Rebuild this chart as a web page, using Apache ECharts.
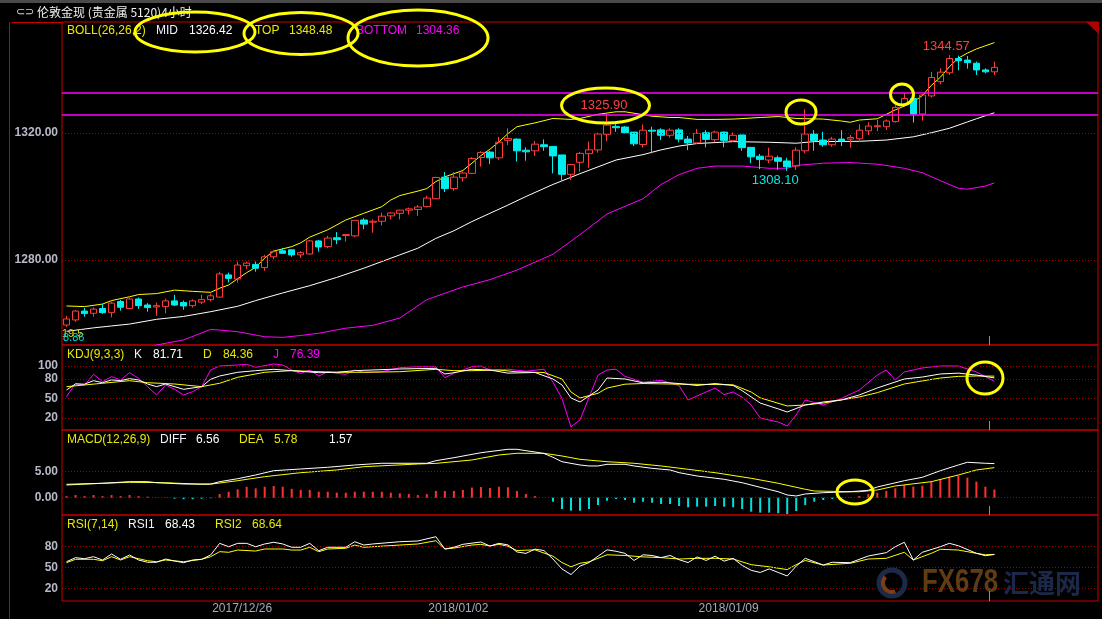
<!DOCTYPE html>
<html><head><meta charset="utf-8">
<script src="https://cdn.jsdelivr.net/npm/echarts@6.0.0/dist/echarts.min.js"></script>
<style>html,body{margin:0;padding:0;background:#000;}#c{width:1102px;height:619px;}</style>
</head><body><div id="c"></div><script>
// ---------- DATA ----------
// candles: [open, close, low, high]
const candles = [
[1259.5,1261.4,1258.9,1262.4],[1261.1,1263.9,1260.5,1264.2],[1263.9,1263.1,1262.1,1264.9],[1263.2,1264.5,1262.1,1265.1],
[1264.7,1263.4,1263.0,1266.1],[1263.4,1266.4,1261.9,1266.9],[1266.9,1265.1,1264.0,1267.4],[1264.7,1267.7,1264.6,1268.2],
[1267.7,1265.6,1264.6,1268.2],[1265.8,1265.0,1263.7,1266.4],[1265.2,1265.6,1262.4,1266.6],[1265.3,1267.1,1263.2,1267.8],
[1267.1,1265.8,1265.5,1269.0],[1266.6,1265.5,1264.3,1267.2],[1265.6,1267.1,1265.0,1267.6],[1266.7,1267.5,1266.1,1269.0],
[1267.5,1268.7,1266.9,1269.4],[1268.3,1275.6,1268.1,1276.3],[1275.3,1274.2,1272.9,1276.0],[1274.0,1278.4,1272.9,1279.5],
[1278.2,1279.0,1277.1,1279.5],[1278.6,1277.4,1276.3,1279.5],[1277.6,1281.0,1276.6,1281.6],[1281.0,1282.6,1280.2,1283.2],
[1282.9,1282.1,1282.1,1283.7],[1283.2,1281.6,1281.0,1283.2],[1281.6,1282.3,1280.7,1282.8],[1281.9,1286.0,1281.7,1286.3],
[1286.0,1284.1,1282.6,1286.3],[1284.2,1286.9,1283.7,1287.6],[1287.0,1286.4,1285.0,1288.8],[1287.7,1288.0,1285.8,1288.2],
[1287.6,1292.5,1287.2,1292.5],[1292.6,1291.3,1289.7,1293.2],[1291.9,1292.2,1288.6,1292.8],[1292.2,1293.8,1290.9,1294.9],
[1293.9,1294.8,1292.8,1295.1],[1294.7,1295.7,1292.8,1295.8],[1295.7,1296.1,1294.3,1296.5],[1295.9,1296.7,1293.9,1297.3],
[1296.8,1299.5,1296.6,1300.2],[1299.3,1306.0,1299.1,1306.2],[1306.1,1302.5,1301.4,1307.7],[1302.5,1306.1,1301.8,1307.7],
[1305.9,1307.4,1304.7,1307.8],[1307.3,1312.0,1307.1,1312.4],[1312.3,1313.9,1309.4,1314.3],[1314.0,1312.2,1310.2,1314.4],
[1312.2,1317.1,1311.5,1318.8],[1317.7,1318.3,1316.2,1321.5],[1318.1,1314.4,1311.0,1318.3],[1314.6,1314.1,1311.3,1315.5],
[1314.4,1316.5,1312.8,1317.5],[1316.3,1315.7,1314.4,1318.0],[1315.8,1312.8,1307.3,1315.8],[1313.1,1307.0,1305.0,1313.1],
[1307.0,1310.1,1305.2,1310.1],[1310.8,1313.6,1307.8,1314.1],[1313.5,1314.7,1309.1,1317.3],[1314.7,1319.7,1313.8,1320.1],
[1319.6,1322.5,1317.5,1325.9],[1322.1,1321.7,1320.4,1322.8],[1321.9,1320.1,1319.9,1322.2],[1320.3,1316.6,1315.9,1320.3],
[1316.4,1320.9,1315.4,1322.7],[1320.9,1320.6,1313.6,1322.0],[1321.0,1319.3,1317.8,1321.5],[1319.3,1320.9,1318.5,1321.5],
[1321.0,1318.1,1317.1,1321.5],[1318.1,1316.9,1314.6,1319.1],[1316.9,1319.9,1316.5,1321.3],[1320.1,1318.0,1315.5,1320.9],
[1317.9,1320.3,1317.1,1320.7],[1320.3,1317.7,1315.5,1320.5],[1317.6,1319.3,1317.3,1320.2],[1319.4,1315.4,1314.4,1319.4],
[1315.5,1312.5,1310.5,1315.5],[1312.7,1311.7,1308.6,1313.4],[1311.5,1312.7,1310.5,1315.4],[1312.2,1311.1,1308.4,1312.9],
[1311.2,1309.4,1308.1,1312.2],[1309.6,1314.6,1308.4,1315.5],[1314.4,1319.7,1313.6,1327.5],[1319.7,1317.6,1314.4,1320.9],
[1317.8,1316.3,1315.7,1320.4],[1316.3,1318.1,1315.7,1318.8],[1318.1,1317.5,1315.9,1320.9],[1318.1,1318.6,1315.4,1319.4],
[1318.2,1320.9,1317.2,1322.8],[1320.7,1322.2,1319.4,1323.4],[1322.0,1322.3,1320.6,1324.1],[1322.0,1323.8,1320.9,1324.3],
[1323.6,1328.1,1323.3,1328.8],[1328.8,1330.9,1328.3,1332.7],[1330.9,1326.0,1323.3,1330.9],[1326.0,1332.0,1323.9,1332.3],
[1331.7,1337.5,1331.2,1339.3],[1336.2,1339.2,1335.4,1340.4],[1339.0,1343.5,1338.3,1344.57],[1343.5,1342.8,1339.8,1344.4],
[1343.0,1342.2,1340.3,1344.3],[1342.0,1339.9,1338.3,1342.5],[1339.9,1339.3,1338.8,1340.4],[1339.3,1340.7,1338.3,1342.5]
];
// Bollinger lines: [barIndex, value]
const bollTop = [[0,1265.5],[2,1265.3],[4,1266.1],[5,1267.2],[7,1268.4],[8,1269.1],[10,1269.4],[12,1270.5],[14,1270.1],[16,1269.8],[17,1271.1],[18,1272.1],[19,1274.1],[20,1276.0],[21,1277.7],[22,1280.6],[23,1282.8],[25,1284.2],[26,1285.4],[27,1287.2],[29,1289.5],[31,1292.6],[33,1294.7],[35,1296.8],[36,1298.9],[37,1300.3],[38,1301.0],[39,1301.7],[40,1302.5],[41,1304.7],[42,1306.2],[44,1308.2],[45,1310.5],[46,1312.9],[47,1314.9],[48,1317.2],[49,1319.8],[50,1322.0],[52,1323.2],[54,1324.6],[56,1324.3],[57,1324.6],[59,1325.9],[61,1326.7],[62,1326.7],[64,1325.8],[65,1325.3],[67,1324.9],[68,1324.9],[70,1324.3],[72,1324.3],[74,1324.4],[77,1324.9],[79,1325.2],[81,1324.6],[84,1324.4],[86,1323.8],[87,1323.4],[88,1324.1],[90,1324.5],[91,1325.9],[92,1327.3],[93,1328.5],[94,1329.8],[95,1331.8],[96,1335.0],[97,1337.6],[98,1340.9],[99,1343.6],[100,1345.2],[101,1346.5],[102,1347.5],[103,1348.5]];
const bollMid = [[0,1257.5],[3,1258.6],[5,1259.2],[7,1259.8],[10,1261.3],[13,1262.2],[16,1263.7],[19,1265.4],[21,1267.2],[24,1269.6],[27,1271.9],[30,1274.5],[33,1277.4],[35,1279.5],[37,1281.6],[39,1283.7],[41,1286.8],[43,1289.2],[45,1292.1],[47,1294.7],[49,1297.3],[51,1300.0],[54,1303.8],[57,1307.2],[61,1311.5],[64,1313.2],[66,1314.7],[68,1315.9],[70,1316.7],[74,1317.3],[78,1317.1],[81,1316.8],[83,1317.3],[88,1317.4],[91,1317.8],[94,1318.8],[96,1320.1],[98,1321.5],[100,1323.5],[101,1324.5],[103,1326.4]];
const bollBot = [[0,1246.5],[6,1249.5],[10,1253.2],[13,1254.8],[16,1258.1],[17,1257.9],[19,1257.4],[22,1255.8],[24,1255.6],[26,1256.2],[28,1256.9],[31,1258.5],[34,1259.4],[37,1261.7],[40,1267.5],[44,1271.5],[47,1273.8],[50,1276.8],[54,1281.8],[57,1288.0],[60,1294.5],[64,1299.3],[66,1303.8],[68,1306.9],[70,1308.9],[72,1309.6],[75,1309.6],[78,1308.9],[80,1308.9],[81,1309.8],[84,1310.5],[87,1310.7],[90,1310.2],[93,1308.9],[95,1307.5],[97,1305.0],[99,1302.6],[100,1302.3],[102,1303.3],[103,1304.3]];
const levelLines = [1332.8, 1325.9];
// KDJ
const kdjK = [[0,63.1],[1,72.3],[2,72],[3,77.4],[4,74.3],[5,78.5],[6,77.5],[7,80.5],[8,78.5],[9,72.3],[10,68.2],[11,72.3],[13,64.1],[15,68.2],[16,79.5],[17,84.6],[19,90.3],[21,92.8],[23,94.9],[25,92.8],[28,89.7],[30,90.3],[32,92.8],[37,95.4],[41,96.4],[42,87.7],[43,89.7],[45,94.9],[47,93.8],[49,89],[52,90],[54,80],[55,70.8],[56,50.8],[57,44.6],[59,63],[60,81.5],[62,80],[64,74],[66,75],[68,73],[70,70],[72,73],[74,70],[75,62],[77,43],[79,34],[80,29.2],[82,40],[84,44.6],[86,47.7],[88,55.4],[90,66.2],[93,80],[95,83],[97,87.7],[99,89],[101,86],[103,81.71]];
const kdjD = [[0,68.2],[4,73.4],[7,77.4],[9,74.3],[12,72.3],[15,68.2],[17,73.4],[19,82.6],[22,90.3],[25,92.8],[30,90.3],[33,90.3],[37,91.2],[41,94.9],[43,92.8],[45,92.8],[48,93.8],[50,91],[53,90],[55,80],[56,60],[57,50.8],[59,58],[60,66],[62,72],[64,73],[68,72],[72,71.5],[74,71],[76,60],[77,51],[80,38.5],[82,40],[84,43],[86,47.7],[88,52.3],[90,59],[93,72.3],[95,77],[97,81.5],[99,84],[101,84.6],[103,84.36]];
const kdjJ = [[0,52.8],[1,73.4],[2,70.8],[3,87.2],[4,75.8],[5,83.6],[6,78.5],[7,89.7],[8,81.0],[9,68.2],[10,55.4],[11,70.8],[12,64.1],[13,55.4],[14,60.5],[15,68.2],[16,93.8],[17,100],[19,101.5],[20,102.6],[21,98.0],[23,103.1],[24,101.5],[25,93.8],[26,88.7],[27,93.8],[28,84.6],[29,91.2],[30,88.7],[31,87.2],[32,93.8],[33,90.3],[35,91.2],[37,97.4],[39,98.9],[41,98.9],[42,82.0],[43,88.7],[45,98.9],[46,100],[47,93.8],[48,93.8],[49,95],[51,92],[53,95],[54,75],[55,50],[56,6.2],[57,17],[59,86],[60,93.8],[61,95],[62,84],[64,75],[66,78],[68,70],[69,47.7],[71,60],[72,66],[73,56],[74,60],[75,52],[76,40],[77,20],[79,13.8],[80,7.7],[81,24.6],[82,47.7],[84,40],[86,50],[88,63],[90,86],[91,93.8],[92,78.5],[93,90.8],[95,97],[97,100],[99,100],[101,90.8],[103,76.39]];
// MACD
const macdDiff = [[0,2.57],[4,2.77],[7,3.08],[9,3.08],[10,2.88],[13,2.63],[16,2.63],[17,3.08],[19,3.65],[21,4.37],[23,5.19],[26,5.52],[29,5.85],[32,6.29],[35,6.62],[40,6.62],[41,7.12],[43,7.69],[46,8.65],[49,9.31],[50,9.31],[51,9.04],[52,8.79],[53,8.5],[54,7.77],[55,6.92],[57,6.29],[58,6.10],[59,6.10],[60,6.42],[62,6.42],[63,6.10],[65,5.65],[67,5.33],[68,4.81],[70,4.17],[73,3.54],[75,2.88],[77,2.00],[79,1.15],[80,0.52],[81,0.33],[82,0.71],[84,0.96],[87,1.15],[89,1.42],[90,2.06],[93,3.27],[95,3.92],[97,5.19],[99,6.29],[100,6.81],[102,6.62],[103,6.56]];
const macdDea = [[0,2.44],[4,2.77],[7,2.96],[11,2.88],[15,2.57],[16,2.6],[19,3.27],[22,4.04],[26,4.81],[30,5.33],[33,5.96],[39,6.48],[41,6.6],[45,7.25],[46,7.58],[48,8.21],[50,8.54],[53,8.54],[55,8.02],[57,7.38],[60,6.92],[63,6.62],[66,6.10],[69,5.46],[72,4.81],[76,3.73],[79,2.77],[82,1.62],[83,1.29],[87,1.15],[88,1.15],[90,1.48],[92,2.25],[96,3.08],[99,4.37],[101,5.33],[103,5.78]];
const macdHist = [0.3,0.5,0.3,0.5,0.3,0.5,0.3,0.5,0.3,0.2,0.05,0.05,-0.2,-0.3,-0.3,-0.2,-0.1,
0.7,1.15,1.6,2.1,1.8,2.1,2.25,2.1,1.7,1.5,1.5,1.15,1.15,0.96,0.96,1.15,1.15,1.15,1.15,0.96,0.83,0.7,0.5,0.7,1.3,1.3,1.3,1.5,1.95,2.05,1.85,2.1,
2.0,1.28,0.7,0.3,0.02,-0.77,-2.18,-2.5,-2.5,-2.18,-1.41,-0.58,-0.26,-0.45,-0.96,-0.77,-0.96,-1.22,-1.22,-1.6,-1.86,-1.73,-1.73,-1.6,-1.73,-1.86,-2.18,-2.69,-2.88,-2.88,-3.0,-3.14,-2.56,-1.41,-0.77,-0.45,-0.26,-0.05,0.05,0.32,0.7,0.96,
1.28,1.8,2.44,2.12,2.3,3.08,3.53,4.04,4.23,3.85,3.08,2.12,1.57];
// RSI
const rsi1 = [[0,58.2],[1,63.9],[2,62.5],[3,65.3],[4,60.6],[5,69.1],[6,61.6],[7,67.7],[8,60.6],[9,57.4],[10,57.4],[11,62.0],[12,59.2],[13,56.8],[14,60.6],[15,61.6],[16,67.7],[17,84.2],[18,79.4],[19,84.2],[20,84.2],[21,79.4],[22,83.3],[23,85.7],[24,83.3],[25,78.6],[26,78.6],[27,84.2],[28,73.8],[29,78.6],[31,78.6],[32,86.5],[33,81.8],[34,83.3],[37,86.5],[39,87.5],[41,93.6],[42,76.2],[43,78.6],[44,82.8],[46,86.1],[47,80.4],[48,84.2],[49,82],[50,72],[51,70],[52,76],[53,74],[54,62],[55,48],[56,40],[57,52],[58,57],[59,66],[60,75],[61,73],[62,70],[63,60],[64,68],[65,67],[66,64],[67,67],[68,61],[69,57],[70,65],[71,60],[72,66],[73,59],[74,63],[75,53],[76,46],[77,43],[78,48],[79,43],[80,38],[81,52],[82,63],[84,53.5],[85,57.4],[87,56.8],[89,66.3],[91,71.0],[92,79.4],[93,85.7],[94,60.6],[95,71.5],[97,79.4],[98,84.2],[99,80.8],[101,70.1],[102,66.7],[103,68.43]];
const rsi2 = [[0,56.8],[1,61.6],[3,61.6],[4,59.6],[5,65.3],[6,60.6],[7,65.3],[9,59.6],[10,58.2],[11,60.6],[13,58.2],[15,61.6],[16,65.3],[17,72.4],[18,71.5],[19,74.7],[21,73.3],[22,76.2],[24,76.2],[25,74.7],[26,74.7],[27,78.6],[28,72.4],[29,76.2],[31,77.2],[32,81.8],[33,78.6],[37,81.8],[39,83.3],[41,87.9],[42,76.2],[43,77.5],[45,81.8],[46,82.8],[47,80.4],[48,82.8],[49,80],[50,74],[52,75],[54,66],[55,57],[56,51],[57,56],[58,58],[60,68],[62,67],[64,65],[66,64],[68,62],[70,63],[72,63],[74,62],[76,54],[78,51],[80,47],[81,54],[82,60],[84,53.5],[87,56],[89,62.0],[91,63.0],[93,71.5],[94,60.6],[96,70.1],[97,75.8],[99,74.7],[101,70.1],[102,68],[103,68.64]];
// axis ticks / labels
const mainTicks = [1320, 1280], mainTickLabels = ['1320.00', '1280.00'];
const kdjTicks = [100, 80, 50, 20];
const macdTicks = [5, 0], macdTickLabels = ['5.00', '0.00'];
const rsiTicks = [80, 50, 20];
const dateTickIdx = [19, 43, 73], dateTickLabels = ['2017/12/26', '2018/01/02', '2018/01/09'];
const peakMarks = [{k:60, v:1325.9, text:'1325.90', color:'#ff4040', off:[-3,-9]}, {k:98, v:1344.57, text:'1344.57', color:'#ff4040', off:[-3,-9]}, {k:80, v:1308.1, text:'1308.10', color:'#00e8e8', off:[-12,10]}];
const bollLegend = [['BOLL(26,26,2)',67,'#e8e800'],['MID',156,'#f0f0ff'],['1326.42',189,'#ffffff'],['TOP',255,'#e8e800'],['1348.48',289,'#e8e800'],['BOTTOM',356,'#ff00ff'],['1304.36',416,'#ff00ff']];
const kdjLegend = [['KDJ(9,3,3)',67,'#e8e800'],['K',134,'#f0f0ff'],['81.71',153,'#ffffff'],['D',203,'#e8e800'],['84.36',223,'#e8e800'],['J',273,'#ff00ff'],['76.39',290,'#ff00ff']];
const macdLegend = [['MACD(12,26,9)',67,'#e8e800'],['DIFF',160,'#f0f0ff'],['6.56',196,'#ffffff'],['DEA',239,'#e8e800'],['5.78',274,'#e8e800'],['1.57',329,'#ffffff']];
const rsiLegend = [['RSI(7,14)',67,'#e8e800'],['RSI1',128,'#f0f0ff'],['68.43',165,'#ffffff'],['RSI2',215,'#e8e800'],['68.64',252,'#e8e800']];

// ---------- CHART ----------
const N = 115;
const cats = Array.from({length: N}, (_, i) => 'b' + i);
const GL = 62, GW = 1036;
const FONT = '"Liberation Sans", Arial, sans-serif';
const gridDefs = [[22, 323], [345, 85], [430, 85], [515, 86]];
const yRanges = [[1253.2, 1355.0], [1.5, 132.3], [-3.33, 13.02], [2.6, 124.3]];
const RED = '#ff3c3c', CYAN = '#00eeee';

function gridLines(vals, labels) {
  return {
    silent: true, symbol: ['none', 'none'], animation: false,
    lineStyle: {color: '#a00000', type: [1, 2], width: 1},
    label: {show: true, position: 'start', distance: 4, color: '#b8b8c8', fontFamily: FONT, fontWeight: 'bold', fontSize: 12, formatter: '{b}'},
    emphasis: {disabled: true},
    data: vals.map((v, i) => ({yAxis: v, name: labels[i]}))
  };
}
function lineS(data, color, xi, extra) {
  return Object.assign({type: 'line', data: data, xAxisIndex: xi, yAxisIndex: xi, symbol: 'none', showSymbol: false,
    lineStyle: {color: color, width: 1}, itemStyle: {color: color}, silent: true, z: 3, clip: true}, extra || {});
}
const mainML = gridLines(mainTicks, mainTickLabels);
levelLines.forEach(v => mainML.data.push({yAxis: v, name: '', lineStyle: {color: '#ff00ff', type: 'solid', width: 1.5}, label: {show: false}}));

const texts = [];
function legendRow(arr, y) { arr.forEach(a => texts.push({type: 'text', z: 50, style: {text: a[0], x: a[1], y: y, fill: a[2], font: '12px ' + FONT, verticalAlign: 'middle'}})); }
legendRow(bollLegend, 31); legendRow(kdjLegend, 355); legendRow(macdLegend, 440); legendRow(rsiLegend, 525);

const graphics = [
  {type: 'rect', shape: {x: 0, y: 0, width: 1102, height: 3}, style: {fill: '#4a4a4a'}, z: 40},
  {type: 'line', shape: {x1: 12, y1: 22.5, x2: 62, y2: 22.5}, style: {stroke: '#c80000', lineWidth: 1}, z: 40},
  {type: 'line', shape: {x1: 9.5, y1: 22, x2: 9.5, y2: 619}, style: {stroke: '#3c3c3c', lineWidth: 1}, z: 40},
  {type: 'polygon', shape: {points: [[1086, 22], [1099, 22], [1099, 34]]}, style: {fill: '#b00000'}, z: 40},
  {type: 'text', style: {text: '⊂⊃', x: 16, y: 12, fill: '#d0d0d0', font: '11px ' + FONT, verticalAlign: 'middle'}, z: 40},
  {type: 'text', style: {text: '伦敦金现 (贵金属 5120)4小时', x: 37, y: 12, fill: '#f0f0f0', font: '12px "Noto Sans CJK SC"', verticalAlign: 'middle'}, z: 40},
  {type: 'text', style: {text: '19.5', x: 62, y: 334, fill: '#d8d800', font: '11px ' + FONT, verticalAlign: 'middle'}, z: 40},
  {type: 'text', style: {text: '8.86', x: 63, y: 338, fill: '#00dddd', font: '11px ' + FONT, verticalAlign: 'middle'}, z: 41},
  // small cursor ticks
  {type: 'line', shape: {x1: 989.5, y1: 336, x2: 989.5, y2: 345}, style: {stroke: '#909090', lineWidth: 1}, z: 40},
  {type: 'line', shape: {x1: 989.5, y1: 421, x2: 989.5, y2: 430}, style: {stroke: '#909090', lineWidth: 1}, z: 40},
  {type: 'line', shape: {x1: 989.5, y1: 506, x2: 989.5, y2: 515}, style: {stroke: '#909090', lineWidth: 1}, z: 40},
  {type: 'line', shape: {x1: 989.5, y1: 591, x2: 989.5, y2: 601}, style: {stroke: '#909090', lineWidth: 1}, z: 40},
  // watermark
  {type: 'circle', shape: {cx: 892, cy: 583, r: 13}, style: {fill: 'none', stroke: '#1c2a48', lineWidth: 5}, z: 30},
  {type: 'arc', shape: {cx: 892, cy: 583, r: 9, startAngle: 1.2, endAngle: 3.9}, style: {fill: 'none', stroke: '#7a3e18', lineWidth: 4}, z: 31},
  {type: 'text', x: 922, y: 583, scaleX: 0.76, style: {text: 'FX678', x: 0, y: 0, fill: 'rgba(120,75,25,0.8)', font: 'bold 34px ' + FONT, verticalAlign: 'middle'}, z: 30},
  {type: 'text', style: {text: '汇通网', x: 1003, y: 583, fill: 'rgba(28,42,75,0.95)', font: 'bold 26px "Noto Sans CJK SC"', verticalAlign: 'middle'}, z: 30},
  // annotation ellipses
  ...[[195,32,60,20],[301,33.5,57,21],[418,38,70,28],[605.5,105.5,44,17.5],[801,112,15,12],[902,94.5,11.5,10.5],[985,378,18,16],[855,492,18,12]].map(e => ({
    type: 'ellipse', shape: {cx: e[0], cy: e[1], rx: e[2], ry: e[3]}, style: {fill: 'none', stroke: '#ffff00', lineWidth: 3}, z: 60}))
].concat(texts);

const option = {
  animation: false,
  backgroundColor: '#000000',
  grid: gridDefs.map(g => ({left: GL, top: g[0], width: GW, height: g[1], show: true, borderColor: '#c80000', borderWidth: 1, backgroundColor: 'transparent', containLabel: false})),
  xAxis: gridDefs.map((g, i) => ({
    type: 'category', gridIndex: i, data: cats, boundaryGap: true,
    axisLine: {show: false}, axisTick: {show: false}, splitLine: {show: false},
    axisLabel: i < 3 ? {show: false} : {
      show: true, interval: 0, margin: 2, color: '#a8a8b8', fontFamily: FONT, fontSize: 12, padding: [0, 0, 0, 9],
      formatter: (v, idx) => { const j = dateTickIdx.indexOf(idx); return j >= 0 ? dateTickLabels[j] : ''; }
    }
  })),
  yAxis: yRanges.map((r, i) => ({
    type: 'value', gridIndex: i, min: r[0], max: r[1], scale: true,
    axisLine: {show: false}, axisTick: {show: false}, axisLabel: {show: false}, splitLine: {show: false}
  })),
  series: [
    {
      type: 'candlestick', xAxisIndex: 0, yAxisIndex: 0, data: candles, barWidth: 7, silent: true, z: 4,
      itemStyle: {color: 'transparent', color0: CYAN, borderColor: RED, borderColor0: CYAN, borderWidth: 1},
      markLine: mainML,
      markPoint: {
        silent: true, symbol: 'circle', symbolSize: 1, itemStyle: {color: 'transparent'},
        data: peakMarks.map(m => ({coord: [m.k, m.v], label: {show: true, formatter: m.text, color: m.color, fontFamily: FONT, fontSize: 13, offset: m.off, position: 'inside'}}))
      }
    },
    lineS(bollTop, '#ffff00', 0),
    lineS(bollMid, '#ffffff', 0),
    lineS(bollBot, '#ff00ff', 0),
    lineS(kdjJ, '#ff00ff', 1, {z: 3}),
    lineS(kdjD, '#ffff00', 1, {z: 4}),
    lineS(kdjK, '#ffffff', 1, {z: 5, markLine: gridLines(kdjTicks, kdjTicks.map(String))}),
    {
      type: 'bar', xAxisIndex: 2, yAxisIndex: 2, data: macdHist, barWidth: 2, silent: true, z: 2,
      itemStyle: {color: p => p.value >= 0 ? '#ff3030' : '#00dede'},
      markLine: gridLines(macdTicks, macdTickLabels)
    },
    lineS(macdDea, '#ffff00', 2, {z: 4}),
    lineS(macdDiff, '#ffffff', 2, {z: 5}),
    lineS(rsi2, '#ffff00', 3, {z: 4}),
    lineS(rsi1, '#ffffff', 3, {z: 5, markLine: gridLines(rsiTicks, rsiTicks.map(String))})
  ],
  graphic: graphics
};
const chart = echarts.init(document.getElementById('c'), null, {renderer: 'canvas'});
chart.setOption(option);
</script></body></html>
